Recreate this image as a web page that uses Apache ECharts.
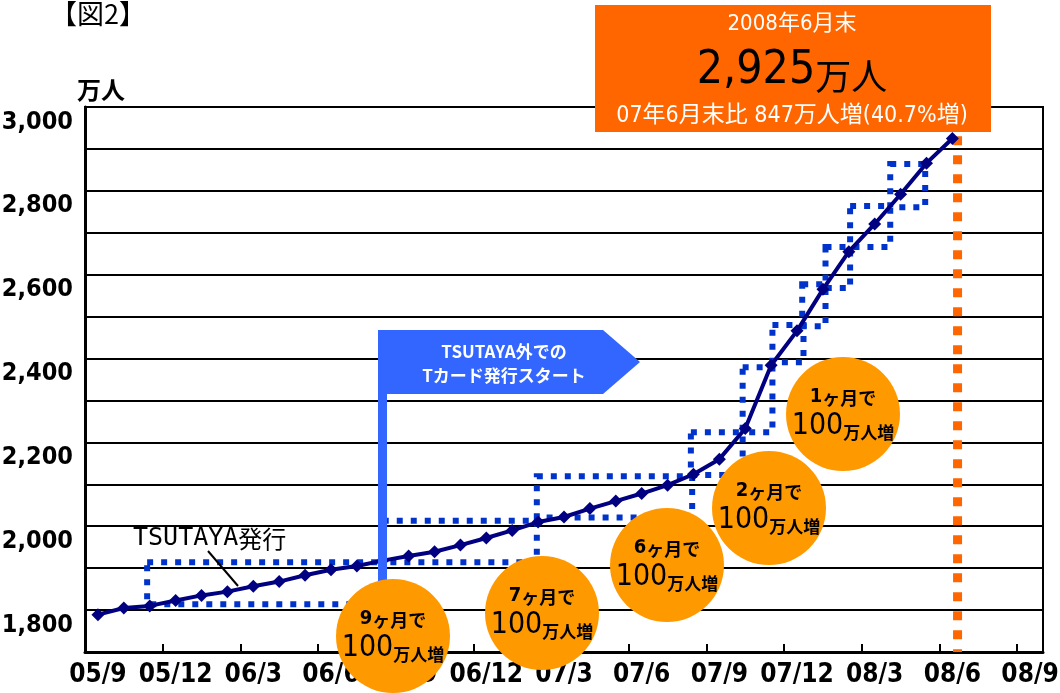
<!DOCTYPE html>
<html>
<head>
<meta charset="utf-8">
<title>図2</title>
<script src="https://cdn.jsdelivr.net/npm/echarts@6/dist/echarts.min.js"></script>
<style>
  html, body { margin: 0; padding: 0; background: #fff; }
  #main { width: 1060px; height: 693px; }
</style>
</head>
<body>
<div id="main"></div>
<script>
// 月（カテゴリ）
var months = ['05/9', '05/10', '05/11', '05/12', '06/1', '06/2', '06/3', '06/4', '06/5', '06/6', '06/7', '06/8',
  '06/9', '06/10', '06/11', '06/12', '07/1', '07/2', '07/3', '07/4', '07/5', '07/6', '07/7', '07/8',
  '07/9', '07/10', '07/11', '07/12', '08/1', '08/2', '08/3', '08/4', '08/5', '08/6', '08/7', '08/8', '08/9'];
// 会員数（万人）
var members = [1789, 1805, 1810, 1823, 1835, 1844, 1857, 1868, 1883, 1896, 1905, 1918,
  1929, 1939, 1955, 1972, 1990, 2010, 2022, 2042, 2060, 2078, 2098, 2124,
  2160, 2233, 2384, 2466, 2565, 2655, 2721, 2792, 2866, 2925];
// y軸ラベルを出す値
var yLabels = [1800, 2000, 2200, 2400, 2600, 2800, 3000];
// 100万人増の点線枠 [開始月, 終了月, 下限, 上限]（月は months の位置）
var boxes = [
  [1.9, 11.0, 1814, 1914],
  [11.0, 16.95, 1914, 2013],
  [16.95, 22.95, 2021, 2119],
  [22.9, 24.9, 2122, 2224],
  [24.9, 26.05, 2224, 2379],
  [26.05, 27.25, 2391, 2480],
  [27.2, 28.1, 2477, 2577],
  [28.1, 29.05, 2568, 2666],
  [29.05, 30.6, 2666, 2764],
  [30.6, 31.95, 2761, 2864]
];
// 08年6月末の縦線 [月, 上端, 下端]
var endMark = [33.2, 2930, 1700];

var NARROW = "'DejaVu Sans Condensed', 'Noto Sans CJK JP', sans-serif";
var JP = "'Noto Sans CJK JP', sans-serif";

// オレンジの丸
function bubble(cx, cy, label) {
  return {
    type: 'group', x: cx, y: cy, z: 30,
    children: [
      { type: 'circle', shape: { cx: 0, cy: 0, r: 57 }, style: { fill: '#FF9900' }, z: 30 },
      {
        type: 'text', x: 0, y: -17, z: 31,
        style: {
          text: '{n|' + label + '}{u|ヶ月で}', align: 'center', verticalAlign: 'middle',
          rich: {
            n: { fontFamily: NARROW, fontWeight: 'bold', fontSize: 20, color: '#fff', verticalAlign: 'bottom' },
            u: { fontFamily: JP, fontWeight: 'bold', fontSize: 18, color: '#fff', verticalAlign: 'bottom' }
          }
        }
      },
      {
        type: 'text', x: 0, y: 12, z: 31,
        style: {
          text: '{n|100}{u|万人増}', align: 'center', verticalAlign: 'middle',
          rich: {
            n: { fontFamily: NARROW, fontSize: 30, color: '#fff', verticalAlign: 'bottom' },
            u: { fontFamily: JP, fontWeight: 'bold', fontSize: 17, color: '#fff', verticalAlign: 'bottom' }
          }
        }
      }
    ]
  };
}

(function () {
  var myChart = echarts.init(document.getElementById('main'));

  var option = {
    backgroundColor: '#fff',
    animation: false,
    grid: {
      left: 85, right: 17, top: 107, bottom: 41,
      outerBoundsMode: 'none',
      containLabel: false,
      show: true, borderColor: '#000', borderWidth: 2
    },
    xAxis: [
      {
        type: 'category',
        data: months,
        boundaryGap: true,
        axisLine: { onZero: false, lineStyle: { color: '#000', width: 3 } },
        axisTick: { show: true, inside: true, length: 8, interval: 2, lineStyle: { color: '#000', width: 2 } },
        axisLabel: {
          interval: 2, margin: 10, color: '#000',
          fontFamily: NARROW, fontWeight: 'bold', fontSize: 26, lineHeight: 26
        },
        splitLine: { show: false }
      },
      {
        // 枠・縦線用（月を数値で扱う）
        type: 'value', min: -0.5, max: 36.5, show: false
      }
    ],
    yAxis: {
      type: 'value',
      min: 1700, max: 3000, interval: 100,
      axisLine: { show: true, onZero: false, lineStyle: { color: '#000', width: 3 } },
      axisTick: { show: false },
      axisLabel: {
        margin: 12, color: '#000', verticalAlign: 'top', lineHeight: 30,
        fontFamily: NARROW, fontWeight: 'bold', fontSize: 25,
        formatter: function (v) {
          return yLabels.indexOf(v) >= 0 ? v.toLocaleString('en-US') : '';
        }
      },
      splitLine: { lineStyle: { color: '#000', width: 2 } }
    },
    series: [
      {
        // 100万人増の点線枠
        type: 'custom',
        xAxisIndex: 1,
        data: boxes,
        encode: { x: [0, 1], y: [2, 3] },
        z: 3,
        silent: true,
        renderItem: function (params, api) {
          var p0 = api.coord([api.value(0), api.value(3)]);
          var p1 = api.coord([api.value(1), api.value(2)]);
          return {
            type: 'rect',
            shape: { x: p0[0], y: p0[1], width: p1[0] - p0[0], height: p1[1] - p0[1] },
            style: { fill: null, stroke: '#0033CC', lineWidth: 6, lineDash: [6, 8] }
          };
        }
      },
      {
        // 08年6月末の縦線
        type: 'line',
        xAxisIndex: 1,
        data: [[endMark[0], endMark[1]], [endMark[0], endMark[2]]],
        symbol: 'none',
        silent: true,
        z: 2,
        lineStyle: { color: '#FF6600', width: 9, type: [9, 10] }
      },
      {
        name: '会員数',
        type: 'line',
        data: members,
        symbol: 'diamond',
        symbolSize: 13,
        z: 5,
        lineStyle: { color: '#000080', width: 4 },
        itemStyle: { color: '#000080' }
      }
    ],
    graphic: [
      // 図番号
      {
        type: 'text', left: 50, top: 0, z: 20,
        style: { text: '【図2】', fontFamily: JP, fontSize: 27, fill: '#000' }
      },
      // 単位
      {
        type: 'text', left: 77, top: 78, z: 20,
        style: { text: '万人', fontFamily: JP, fontWeight: 'bold', fontSize: 24, fill: '#000' }
      },
      // TSUTAYA発行
      {
        type: 'text', x: 133, y: 538, z: 20,
        style: {
          text: '{a|TSUTAYA}{b|発行}', verticalAlign: 'middle',
          rich: {
            a: { fontFamily: "'DejaVu Sans Mono', monospace", fontSize: 25, color: '#000', verticalAlign: 'bottom' },
            b: { fontFamily: JP, fontSize: 24, color: '#000', verticalAlign: 'bottom' }
          }
        }
      },
      {
        type: 'line', z: 20,
        shape: { x1: 208, y1: 551, x2: 238, y2: 586 },
        style: { stroke: '#000', lineWidth: 2 }
      },
      // 旗
      {
        type: 'rect', z: 15,
        shape: { x: 378, y: 330, width: 9, height: 280 },
        style: { fill: '#3366FF' }
      },
      {
        type: 'polygon', z: 15,
        shape: { points: [[378, 330], [603, 330], [640, 362], [603, 394], [378, 394]] },
        style: { fill: '#3366FF' }
      },
      {
        type: 'text', x: 504, y: 352, z: 16,
        style: { text: 'TSUTAYA外での', align: 'center', verticalAlign: 'middle', fontFamily: JP, fontWeight: 'bold', fontSize: 17, fill: '#fff' }
      },
      {
        type: 'text', x: 504, y: 376, z: 16,
        style: { text: 'Tカード発行スタート', align: 'center', verticalAlign: 'middle', fontFamily: JP, fontWeight: 'bold', fontSize: 17, fill: '#fff' }
      },
      // 丸
      bubble(393, 636, '9'),
      bubble(542, 613, '7'),
      bubble(667, 565, '6'),
      bubble(769, 508, '2'),
      bubble(843, 414, '1'),
      // 右上のボックス
      {
        type: 'rect', z: 25,
        shape: { x: 595, y: 5, width: 396, height: 127 },
        style: { fill: '#FF6600' }
      },
      {
        type: 'text', x: 792, y: 24, z: 26,
        style: { text: '2008年6月末', align: 'center', verticalAlign: 'middle', fontFamily: NARROW, fontSize: 22, fill: '#fff' }
      },
      {
        type: 'text', x: 792, y: 71, z: 26,
        style: {
          text: '{n|2,925}{u|万人}', align: 'center', verticalAlign: 'middle',
          rich: {
            n: { fontFamily: NARROW, fontSize: 46, color: '#fff', verticalAlign: 'bottom' },
            u: { fontFamily: JP, fontSize: 36, color: '#fff', verticalAlign: 'bottom' }
          }
        }
      },
      {
        type: 'text', x: 792, y: 116, z: 26,
        style: { text: '07年6月末比 847万人増(40.7%増)', align: 'center', verticalAlign: 'middle', fontFamily: NARROW, fontSize: 23, fill: '#fff' }
      }
    ]
  };

  myChart.setOption(option);

  window.addEventListener('resize', function () {
    myChart.resize();
  });
})();
</script>
</body>
</html>
